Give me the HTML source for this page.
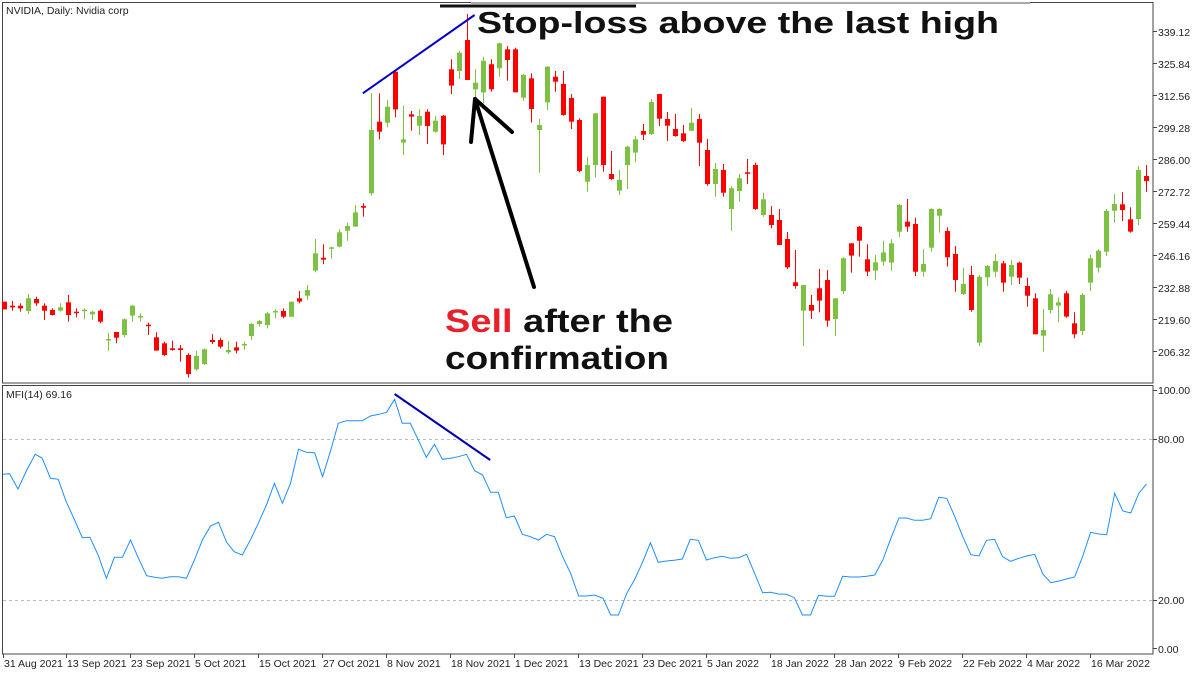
<!DOCTYPE html>
<html><head><meta charset="utf-8">
<style>
html,body{margin:0;padding:0;background:#fff;}
svg{display:block;}
.ax{font-family:"Liberation Sans",sans-serif;font-size:10.5px;fill:#222;}
</style></head>
<body>
<svg id="c" width="1200" height="675" viewBox="0 0 1200 675" xmlns="http://www.w3.org/2000/svg">
<rect width="1200" height="675" fill="#fff"/>
<!-- frames -->
<rect x="2.5" y="2.5" width="1150.5" height="380.5" fill="none" stroke="#444" stroke-width="1"/>
<rect x="2.5" y="385.5" width="1150.5" height="268.5" fill="none" stroke="#444" stroke-width="1"/>
<!-- MFI grid -->
<line x1="3" y1="439.5" x2="1152" y2="439.5" stroke="#bbb" stroke-dasharray="3,3"/>
<line x1="3" y1="600.5" x2="1152" y2="600.5" stroke="#bbb" stroke-dasharray="3,3"/>
<g id="candles"></g>
<polyline id="mfi" fill="none" stroke="#1e90ff" stroke-width="1"/>
<!-- divergence lines -->
<line x1="362.8" y1="93.3" x2="474.6" y2="15" stroke="#0000cc" stroke-width="2"/>
<line x1="394.6" y1="394" x2="490.2" y2="460" stroke="#0000aa" stroke-width="2"/>
<!-- top lines -->
<line x1="471" y1="3" x2="1030" y2="3" stroke="#aaa" stroke-width="2"/>
<line x1="440" y1="6" x2="636" y2="6" stroke="#111" stroke-width="3"/>
<!-- arrow -->
<g stroke="#000" stroke-width="4" stroke-linecap="round" fill="none">
<line x1="475" y1="99" x2="534" y2="287"/>
<line x1="475" y1="99" x2="471" y2="142"/>
<line x1="475" y1="99" x2="512" y2="132"/>
</g>
<!-- annotations -->
<text x="477" y="33" font-family="Liberation Sans, sans-serif" font-weight="bold" font-size="31" fill="#111" textLength="522" lengthAdjust="spacingAndGlyphs">Stop-loss above the last high</text>
<text x="445" y="332" font-family="Liberation Sans, sans-serif" font-weight="bold" font-size="32" fill="#111" textLength="228" lengthAdjust="spacingAndGlyphs"><tspan fill="#e8202a">Sell</tspan> after the</text>
<text x="445" y="369" font-family="Liberation Sans, sans-serif" font-weight="bold" font-size="32" fill="#111" textLength="224" lengthAdjust="spacingAndGlyphs">confirmation</text>
<!-- titles -->
<text class="ax" x="6" y="14" font-size="10">NVIDIA, Daily:  Nvidia corp</text>
<text class="ax" x="6" y="398" font-size="10">MFI(14) 69.16</text>
<!-- price axis -->
<g class="ax">
<text x="1158" y="36">339.12</text><text x="1158" y="68">325.84</text><text x="1158" y="100">312.56</text>
<text x="1158" y="132">299.28</text><text x="1158" y="164">286.00</text><text x="1158" y="196">272.72</text>
<text x="1158" y="228">259.44</text><text x="1158" y="260">246.16</text><text x="1158" y="292">232.88</text>
<text x="1158" y="324">219.60</text><text x="1158" y="356">206.32</text>
<text x="1158" y="394">100.00</text><text x="1158" y="443">80.00</text><text x="1158" y="604">20.00</text><text x="1158" y="653">0.00</text>
</g>
<g stroke="#444">
<line x1="1153" y1="31.5" x2="1157" y2="31.5"/><line x1="1153" y1="63.5" x2="1157" y2="63.5"/><line x1="1153" y1="95.5" x2="1157" y2="95.5"/>
<line x1="1153" y1="127.5" x2="1157" y2="127.5"/><line x1="1153" y1="159.5" x2="1157" y2="159.5"/><line x1="1153" y1="191.5" x2="1157" y2="191.5"/>
<line x1="1153" y1="223.5" x2="1157" y2="223.5"/><line x1="1153" y1="255.5" x2="1157" y2="255.5"/><line x1="1153" y1="287.5" x2="1157" y2="287.5"/>
<line x1="1153" y1="319.5" x2="1157" y2="319.5"/><line x1="1153" y1="351.5" x2="1157" y2="351.5"/>
<line x1="1153" y1="390.5" x2="1157" y2="390.5"/><line x1="1153" y1="439.5" x2="1157" y2="439.5"/><line x1="1153" y1="600.5" x2="1157" y2="600.5"/><line x1="1153" y1="648.5" x2="1157" y2="648.5"/>
</g>
<g id="dates" class="ax"></g>
</svg>
<script>
var G=[];
var z1=[
['r',905,928,905,928],['r',917,922,903,932],['r',917,925,910,935],['g',895,933,882,942],['r',897,910,890,918],
['r',917,932,910,960],['r',930,945,925,947],['g',922,932,910,935],['r',907,945,885,965],['r',935,939,925,952],
['g',929,933,925,958],['g',935,943,932,960],['r',932,965,928,970],['g',1017,1020,998,1052],['r',996,1013,996,1030],
['g',958,1005,955,1012],['g',917,947,915,965],['g',948,952,940,965],['r',974,978,968,1005],['r',1012,1052,997,1052],
['r',1030,1065,1025,1068],['r',1045,1050,1022,1052],['r',1045,1050,1035,1085],['r',1065,1122,1060,1133],['g',1068,1108,1052,1112],
['g',1048,1092,1045,1095],['r',1020,1026,1002,1032],['r',1020,1040,1013,1045],['g',1050,1057,1023,1062],['r',1042,1052,1025,1060],
['g',1032,1035,1025,1050],['g',972,1008,970,1020],['g',963,972,960,980],['g',940,975,935,985],['g',933,937,928,955],
['r',933,950,925,955],['g',905,950,905,950],['r',895,905,873,910],['g',870,887,855,900],['g',760,812,717,817],
['r',773,779,733,792],['g',742,746,740,775],['g',697,740,688,742],['g',678,692,668,722],['g',637,680,615,680],
['r',618,623,610,650],['g',390,580,280,587],['r',365,395,280,418],['g',320,368,300,382],['r',215,328,210,352],
['g',418,428,317,465],['r',343,350,333,392],['g',348,377,328,405],['r',335,378,328,432],['g',362,395,348,398],
['r',347,433,345,465],['r',208,257,178,282],['g',158,213,152,237],['r',120,240,42,240],['g',248,268,208,298],
['g',182,277,170,310],['r',193,268,178,275],['g',130,205,128,230],['r',148,180,138,242],['r',148,277,143,277],
['g',225,293,222,302],['r',235,327,220,368],['g',375,390,357,518],['g',200,307,198,330],['r',230,245,213,275],
['r',252,345,213,347],['r',294,365,282,387],['r',360,513,355,517],['g',495,545,470,575],['g',340,495,340,533]];
var z2=[
['r',290,495,290,515],['r',522,537,453,540],['g',540,572,510,585],['g',440,495,437,567],['g',418,458,408,487],
['r',393,404,372,420],['g',306,402,297,405],['r',282,356,282,378],['r',357,377,336,423],['r',387,408,342,410],
['r',400,423,375,426],['g',368,392,323,392],['r',357,428,342,498],['r',450,552,417,557],['g',507,552,489,590],
['r',510,578,492,590],['g',565,627,558,692],['g',535,573,522,605],['r',517,521,477,552],['r',495,627,488,630],
['g',598,645,578,650],['r',645,675,618,685],['r',660,735,627,735],['r',717,802,696,807],['r',847,858,750,866],
['g',855,932,855,1038],['r',915,932,885,957],['r',865,902,807,937],['r',840,962,810,980],['g',895,957,895,1008],
['g',775,873,772,882],['r',730,767,730,818],['r',680,722,678,770],['r',778,815,733,828],['g',787,812,765,840],
['g',757,785,722,797],['g',730,788,718,812],['g',615,695,612,712],['r',665,680,597,695],['r',672,815,653,828],
['g',792,815,748,830],['g',627,743,625,755],['g',627,647,625,698],['r',693,772,682,800],['r',762,840,738,875],
['g',852,882,803,885],['r',825,930,798,935],['g',830,1028,825,1038],['g',798,832,795,858],['g',783,815,762,832],
['r',790,848,783,875],['g',795,830,780,855],['r',788,833,785,852],['r',858,887,833,920],['r',895,1003,880,1003],
['g',990,1007,927,1055],['g',883,930,867,940],['g',907,917,892,967],['r',880,950,873,953],['r',970,1003,937,1015],
['g',885,993,880,1005],['g',775,848,765,873],['g',752,803,748,818],['g',633,755,627,768],['g',612,632,582,668],
['r',613,630,577,663],['r',658,695,622,698],['g',510,657,498,675],['r',528,543,495,575]];
var all=z1.concat(z2),s='';
for(var i=0;i<all.length;i++){var c=all[i],x=Math.round(3.8+i*7.99),col=c[0]=='g'?'#7cc142':'#ff0000';
var bt=c[1]/3,bb=c[2]/3,wt=c[3]/3,wb=c[4]/3,h=Math.max(1.5,bb-bt);
s+='<rect x="'+(x)+'" y="'+wt.toFixed(1)+'" width="1" height="'+(wb-wt).toFixed(1)+'" fill="'+col+'"/>';
s+='<rect x="'+(x-2)+'" y="'+bt.toFixed(1)+'" width="5" height="'+h.toFixed(1)+'" fill="'+col+'"/>';}
document.getElementById('candles').innerHTML=s;
var m4=[8,283,25,281,47,327,70,270,92,223,110,234,132,295,152,298,173,365,195,420,215,473,235,472,257,527,278,595,299,532,320,532,341,480,362,535,383,587,404,592,424,595,445,590,466,590,487,595,508,540,529,480,550,438,571,427,592,487,612,515,633,525,655,478,675,430,696,375,717,310,738,370,759,310,780,208,801,217,822,218,843,290,863,215,884,130,905,122,926,122,947,122,968,108,990,103,1010,97,1031,58,1051,130,1072,130,1093,180,1114,232,1135,193,1156,238,1177,235,1198,230,1219,223,1240,272,1261,285,1282,337,1302,337,1323,413,1344,408,1365,463,1386,470,1407,480,1428,463,1449,470,1470,530,1491,580,1512,648,1532,648,1553,645];
var m5=[8,655,28,705,48,705,70,640,90,600,110,550,132,488,152,547,173,543,194,541,215,537,236,478,257,481,278,540,299,533,320,529,341,535,362,533,383,523,404,580,425,638,446,637,466,642,487,643,508,653,529,705,550,705,571,646,592,649,613,649,634,589,655,591,676,591,697,589,718,585,739,540,760,475,781,414,801,414,822,421,843,421,864,416,885,352,906,355,927,410,948,470,969,524,990,528,1010,481,1031,478,1052,530,1073,544,1094,535,1115,528,1136,523,1157,582,1178,608,1199,603,1219,597,1240,591,1261,530,1282,457,1303,462,1324,464,1345,340,1366,393,1387,399,1408,340,1428,312];
var p=[];
for(i=0;i<m4.length;i+=2)p.push((m4[i]/2.613).toFixed(1)+','+(380+m4[i+1]/3).toFixed(1));
for(i=0;i<m5.length;i+=2)p.push((600+m5[i]/2.613).toFixed(1)+','+(380+m5[i+1]/3).toFixed(1));
document.getElementById('mfi').setAttribute('points',p.join(' '));
var dx=[3,66,130,194,258,322,386,450,514,578,642,706,770,834,898,962,1026,1090];
var dn=['31 Aug 2021','13 Sep 2021','23 Sep 2021','5 Oct 2021','15 Oct 2021','27 Oct 2021','8 Nov 2021','18 Nov 2021','1 Dec 2021','13 Dec 2021','23 Dec 2021','5 Jan 2022','18 Jan 2022','28 Jan 2022','9 Feb 2022','22 Feb 2022','4 Mar 2022','16 Mar 2022'];
s='';for(i=0;i<dx.length;i++){s+='<line x1="'+(dx[i]+0.5)+'" y1="654" x2="'+(dx[i]+0.5)+'" y2="658" stroke="#444"/><text x="'+(dx[i]+1)+'" y="667">'+dn[i]+'</text>';}
document.getElementById('dates').innerHTML=s;
</script>
</body></html>
